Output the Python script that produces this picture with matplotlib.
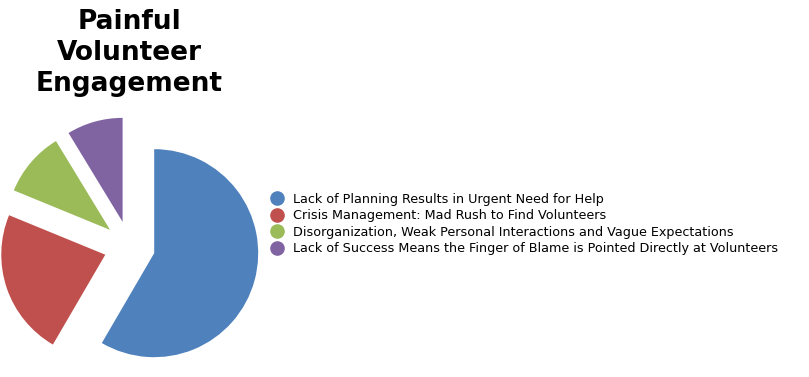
import matplotlib
matplotlib.use("Agg")
import matplotlib.pyplot as plt
from matplotlib.lines import Line2D

title = "Painful\nVolunteer\nEngagement"
categories = [
    "Lack of Planning Results in Urgent Need for Help",
    "Crisis Management: Mad Rush to Find Volunteers",
    "Disorganization, Weak Personal Interactions and Vague Expectations",
    "Lack of Success Means the Finger of Blame is Pointed Directly at Volunteers",
]
values = [58.4, 22.8, 10.1, 8.7]
colors = ["#4F81BD", "#C0504D", "#9BBB59", "#8064A2"]

W, H = 809, 377
R = 104
fig = plt.figure(figsize=(W / 100, H / 100), dpi=100)
ax = fig.add_axes([0, 0, 1, 1])

ax.pie(values, colors=colors, explode=[0.246 * R] * len(values), startangle=90,
       counterclock=False, radius=R, center=(129.5, H - 246.5),
       wedgeprops=dict(linewidth=0))
ax.set_xlim(0, W)
ax.set_ylim(0, H)
ax.set_aspect("equal")
ax.axis("off")

fig.text(129.5 / W, 1 - 9 / H, title, ha="center", va="top", fontsize=19,
         fontweight="bold", family="DejaVu Sans", linespacing=1.25,
         multialignment="center")

handles = [Line2D([], [], linestyle="none", marker="o", markersize=9.5,
                  markerfacecolor=c, markeredgecolor=c) for c in colors]
fig.legend(handles, categories, loc="center left",
           bbox_to_anchor=(270.6 / W, 1 - 224 / H), frameon=False,
           fontsize=9.15, labelspacing=0.27, handlelength=1.0,
           handletextpad=0.75, borderpad=0, borderaxespad=0)

fig.savefig("out.png", dpi=100)
